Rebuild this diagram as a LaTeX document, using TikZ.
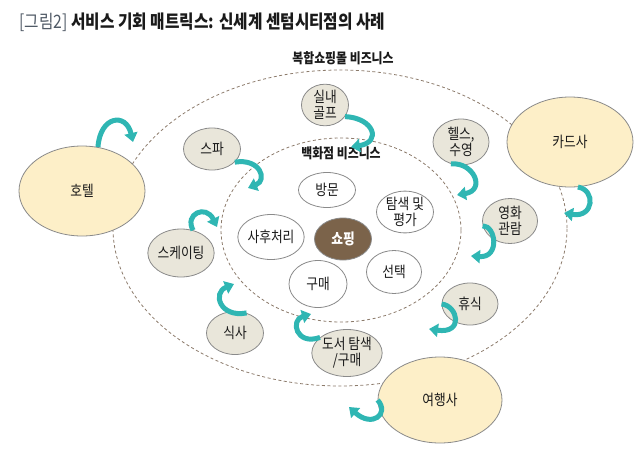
\documentclass[tikz,border=0pt]{standalone}
\usepackage{fontspec}
\usetikzlibrary{shapes.geometric,arrows.meta}
\newfontfamily\kr[FakeStretch=0.85]{Noto Sans CJK KR}
\definecolor{partnerfill}{HTML}{FDEFC8}
\definecolor{extrafill}{HTML}{E9E6DA}
\definecolor{nodeline}{HTML}{8A8A8A}
\definecolor{shopbrown}{HTML}{7B634A}
\definecolor{ribbon}{HTML}{2FB6B3}
\definecolor{bizline}{HTML}{8C7B6B}
\definecolor{txt}{HTML}{1A1A1A}
\definecolor{figtag}{HTML}{505A66}

\begin{document}
\begin{tikzpicture}[x=1pt,y=-1pt]
        \tikzstyle{every node}=[font=\kr\fontsize{15}{16}\selectfont, text=txt, align=center]
        \tikzstyle{partner}=[ellipse, draw=nodeline, fill=partnerfill, line width=0.8pt, minimum width=126pt, minimum height=90pt, inner sep=0pt]
        \tikzstyle{extra}=[ellipse, draw=nodeline, fill=extrafill, line width=0.8pt, minimum width=56pt, minimum height=43pt, inner sep=0pt]
        \tikzstyle{stage}=[ellipse, draw=nodeline, fill=white, line width=0.8pt, minimum width=57pt, minimum height=43pt, inner sep=0pt]
        \tikzstyle{area}=[ellipse, draw=bizline, line width=0.8pt, dash pattern=on 3pt off 2.5pt, inner sep=0pt]
        \tikzstyle{twist}=[draw=ribbon, line width=5pt, -{Triangle[width=13pt,length=9pt]}]
        \useasboundingbox (0,0) rectangle (640,458);

        \node[anchor=west] (title) at (16,22) {\fontsize{18.5}{19}\selectfont{\color{figtag}[그림2]} \bfseries 서비스 기회 매트릭스: 신세계 센텀시티점의 사례};

        \node[area, minimum width=454pt, minimum height=316pt] (mall) at (340,228) {};
        \node[area, minimum width=240pt, minimum height=184pt] (store) at (341,230) {};
        \node[font=\kr\bfseries\fontsize{14}{15}\selectfont] (malllabel) at (343,58) {복합쇼핑몰 비즈니스};
        \node[font=\kr\bfseries\fontsize{14}{15}\selectfont] (storelabel) at (341,153) {백화점 비즈니스};

        \node[partner] (hotel) at (82,191) {호텔};
        \node[partner] (card) at (570,142) {카드사};
        \node[partner, minimum width=124pt, minimum height=86pt] (travel) at (440,400) {여행사};

        \node[stage, minimum height=35pt] (visit) at (327,190) {방문};
        \node[stage, minimum height=40pt] (evaluate) at (405,212) {탐색 및\\평가};
        \node[stage, minimum width=58pt, minimum height=45pt] (aftercare) at (271,237) {사후처리};
        \node[stage, fill=shopbrown, minimum height=42pt, text=white, font=\kr\bfseries\fontsize{15}{16}\selectfont] (shopping) at (343,239) {쇼핑};
        \node[stage, minimum width=58pt, minimum height=47pt] (purchase) at (318,284) {구매};
        \node[stage, minimum width=55pt] (select) at (394,272) {선택};

        \node[extra, minimum width=47pt, minimum height=40pt] (golf) at (325,105) {실내\\골프};
        \node[extra, minimum width=57pt, minimum height=42pt] (spa) at (212,149) {스파};
        \node[extra, minimum height=46pt] (health) at (461,142) {헬스,\\수영};
        \node[extra, minimum width=55pt, minimum height=45pt] (movie) at (510,221) {영화\\관람};
        \node[extra, minimum height=42pt] (rest) at (470,304) {휴식};
        \node[extra, minimum width=60pt, minimum height=48pt] (skating) at (181,253) {스케이팅};
        \node[extra, minimum width=57pt] (meal) at (235,333) {식사};
        \node[extra, minimum width=57pt, minimum height=47pt] (books) at (347,353) {도서 탐색\\/구매};

        \coordinate (hoteltip) at (133,142);
        \coordinate (golftip) at (351,147);
        \coordinate (spatip) at (248,188);
        \coordinate (healthtip) at (457,195);
        \coordinate (cardtip) at (564,213);
        \coordinate (movietip) at (471,256);
        \coordinate (resttip) at (429,329);
        \coordinate (skatingtip) at (217,227);
        \coordinate (mealtip) at (234,284);
        \coordinate (bookstip) at (311,314);
        \coordinate (traveltip) at (349,407);

        \draw[twist] (hotel.70) .. controls (100,116) and (126,112) .. (hoteltip);
        \draw[twist] (golf.-30) .. controls (374,118) and (382,142) .. (golftip);
        \draw[twist] (spa.-30) .. controls (260,158) and (268,180) .. (spatip);
        \draw[twist] (health.-115) .. controls (474,162) and (486,190) .. (healthtip);
        \draw[twist] (card.-80) .. controls (596,190) and (594,218) .. (cardtip);
        \draw[twist] (movie.190) .. controls (496,226) and (500,258) .. (movietip);
        \draw[twist] (rest.180) .. controls (458,306) and (464,334) .. (resttip);
        \draw[twist] (skating.62) .. controls (184,214) and (206,204) .. (skatingtip);
        \draw[twist] (meal.60) .. controls (220,318) and (212,293) .. (mealtip);
        \draw[twist] (books.150) .. controls (296,346) and (290,320) .. (bookstip);
        \draw[twist] (travel.180) .. controls (390,414) and (372,428) .. (traveltip);
      \end{tikzpicture}
\end{document}
